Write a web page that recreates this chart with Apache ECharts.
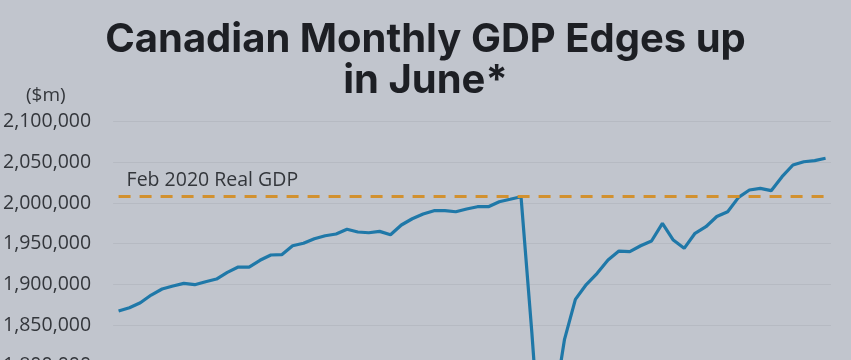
<!DOCTYPE html>
<html>
<head>
<meta charset="utf-8">
<script src="https://cdn.jsdelivr.net/npm/echarts@6/dist/echarts.min.js"></script>
<style>
html,body{margin:0;padding:0;background:#c1c5cd;overflow:hidden;height:360px;}
#chart{width:851px;height:580px;}
</style>
</head>
<body>
<div id="chart"></div>
<script>
const titleText = 'Canadian Monthly GDP Edges up\nin June*';
const unitLabel = '($m)';
const refLabel = 'Feb 2020 Real GDP';
const refValue = 2007800;

const months = [
 '2017-01','2017-02','2017-03','2017-04','2017-05','2017-06','2017-07','2017-08','2017-09','2017-10','2017-11','2017-12',
 '2018-01','2018-02','2018-03','2018-04','2018-05','2018-06','2018-07','2018-08','2018-09','2018-10','2018-11','2018-12',
 '2019-01','2019-02','2019-03','2019-04','2019-05','2019-06','2019-07','2019-08','2019-09','2019-10','2019-11','2019-12',
 '2020-01','2020-02','2020-03','2020-04','2020-05','2020-06','2020-07','2020-08','2020-09','2020-10','2020-11','2020-12',
 '2021-01','2021-02','2021-03','2021-04','2021-05','2021-06','2021-07','2021-08','2021-09','2021-10','2021-11','2021-12',
 '2022-01','2022-02','2022-03','2022-04','2022-05','2022-06'
];

const gdp = [
 1867200, 1871300, 1877400, 1886900, 1894300, 1898000, 1901300, 1899600, 1903300, 1906600, 1914800, 1921300,
 1921300, 1929600, 1936100, 1936500, 1947500, 1950500, 1956100, 1959800, 1961900, 1967700, 1964400, 1963500,
 1965200, 1961100, 1973000, 1980700, 1986500, 1990600, 1990600, 1989300, 1992700, 1995500, 1995500, 2001600,
 2004600, 2007800, 1840000, 1655000, 1748000, 1832400, 1881600, 1899800, 1913600, 1929900, 1941000, 1940200,
 1947500, 1953300, 1975100, 1954500, 1944300, 1962800, 1970900, 1983400, 1989300, 2007000, 2016000, 2018100,
 2015200, 2032400, 2046800, 2050800, 2052100, 2055000
];

const yMin = 1600000, yMax = 2100000, yStep = 50000;

const chart = echarts.init(document.getElementById('chart'), null, {renderer:'canvas'});
chart.setOption({
  animation: false,
  backgroundColor: '#c1c5cd',
  title: {
    text: titleText,
    left: 'center',
    top: 14,
    textStyle: {
      fontFamily: 'Inter',
      fontWeight: 'bold',
      fontSize: 40,
      lineHeight: 41,
      color: '#1d1f24'
    }
  },
  graphic: [{
    type: 'text',
    left: 26,
    top: 86,
    style: {text: unitLabel, font: '19px "Open Sans"', fill: '#33363b'}
  }],
  grid: {left: 113, right: 20, top: 121.7, bottom: 51.6, containLabel: false},
  xAxis: {
    type: 'category',
    data: months,
    boundaryGap: true,
    axisLine: {show: false},
    axisTick: {show: false},
    axisLabel: {show: false},
    splitLine: {show: false}
  },
  yAxis: {
    type: 'value',
    min: yMin,
    max: yMax,
    interval: yStep,
    axisLine: {show: false},
    axisTick: {show: false},
    axisLabel: {
      margin: 22,
      fontFamily: 'Open Sans',
      fontSize: 19.5,
      color: '#33363b',
      formatter: v => v.toLocaleString('en-US')
    },
    splitLine: {lineStyle: {color: '#b6bac2', width: 1}}
  },
  series: [{
    type: 'line',
    data: gdp,
    symbol: 'none',
    smooth: false,
    lineStyle: {color: '#1f78a8', width: 3.2},
    markLine: {
      silent: true,
      symbol: 'none',
      data: [[
        {coord: [months[0], refValue]},
        {coord: [months[months.length - 1], refValue]}
      ]],
      lineStyle: {color: '#d2912f', width: 3, type: [12, 9], cap: 'butt'},
      label: {
        show: true,
        position: 'insideStartTop',
        formatter: refLabel,
        fontFamily: 'Open Sans',
        fontSize: 19.5,
        color: '#33363b',
        distance: [8, 6]
      }
    }
  }]
});
</script>
</body>
</html>
